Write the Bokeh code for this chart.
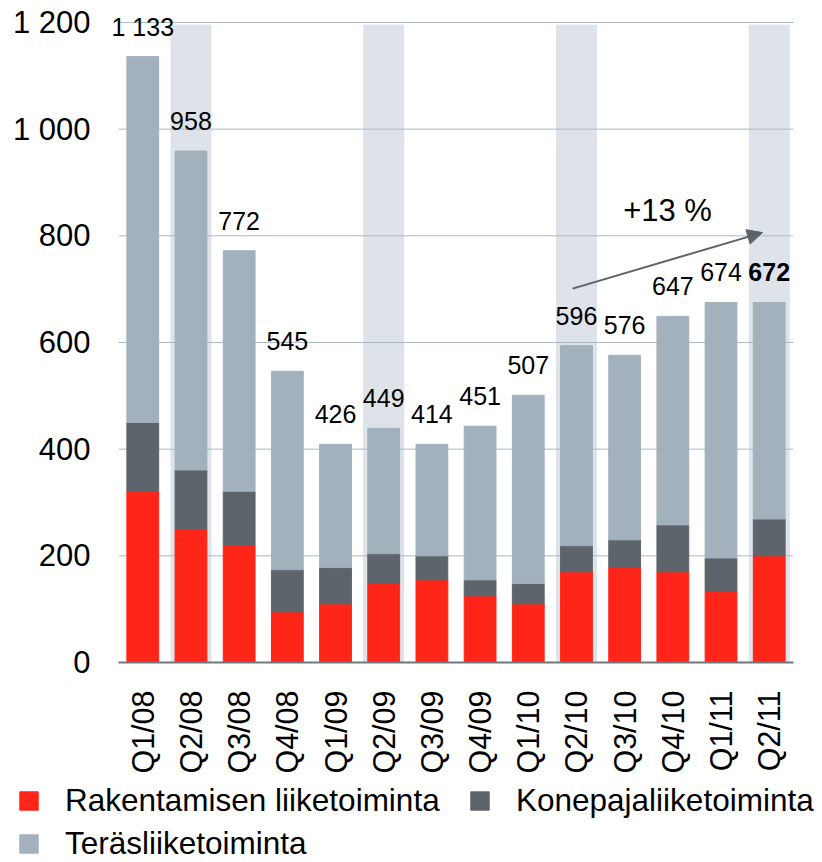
import math
from bokeh.plotting import figure
from bokeh.layouts import column
from bokeh.models import (ColumnDataSource, FactorRange, Range1d, FixedTicker,
                          Legend, LegendItem, Arrow, NormalHead, Label)
from bokeh.embed import file_html
from bokeh.resources import INLINE
from bokeh.core.properties import value, field

# ---------------- data ----------------
quarters = ["Q1/08", "Q2/08", "Q3/08", "Q4/08", "Q1/09", "Q2/09", "Q3/09",
            "Q4/09", "Q1/10", "Q2/10", "Q3/10", "Q4/10", "Q1/11", "Q2/11"]
construction = [321, 250, 220, 95, 110, 148, 155, 125, 110, 170, 178, 170, 133, 200]
engineering = [129, 111, 101, 79, 68, 56, 45, 30, 38, 49, 52, 88, 63, 69]
steel = [686, 598, 451, 372, 231, 235, 209, 288, 353, 375, 346, 391, 479, 406]
total_labels = [1133, 958, 772, 545, 426, 449, 414, 451, 507, 596, 576, 647, 674, 672]
series_names = ["Rakentamisen liiketoiminta", "Konepajaliiketoiminta", "Teräsliiketoiminta"]
y_ticks = [0, 200, 400, 600, 800, 1000, 1200]
growth_text = "+13 %"

# ---------------- styles ----------------
FONT = "Liberation Sans"
colors = ["#FF2519", "#5D646B", "#A3B1BD"]
band_color = "#DEE3EA"
grid_color = "#AAB8C5"
axis_color = "#6F777F"
arrow_color = "#5C636A"

def fmt(v):
    return f"{v:,}".replace(",", " ")

n = len(quarters)
totals = [c + e + s for c, e, s in zip(construction, engineering, steel)]
src = ColumnDataSource(dict(
    q=quarters, c=construction, e=engineering, s=steel,
    total=totals,
    label=[fmt(v) for v in total_labels],
    weight=["normal"] * (n - 1) + ["bold"],
))
highlighted = [q for q in quarters if q.startswith("Q2")]

y_end = 1200 * 653 / 642
p = figure(x_range=FactorRange(*quarters, range_padding=0.17,
                               range_padding_units="absolute"),
           y_range=Range1d(0, y_end),
           width=822, height=776, output_backend="svg", toolbar_location=None,
           min_border_left=110, min_border_right=21, min_border_top=11,
           min_border_bottom=112, outline_line_color=None)
p.frame_align = False

# highlight bands
p.vbar(x=highlighted, top=1195, width=0.83, color=band_color)

# horizontal grid lines spanning the categories only
p.segment(x0=0, x1=n, y0=y_ticks, y1=y_ticks, line_color=grid_color, line_width=1)

rs = p.vbar_stack(["c", "e", "s"], x="q", width=0.66, color=colors, source=src)

p.text(x="q", y="total", text="label", source=src, y_offset=-30,
       text_align="center", text_baseline="middle",
       text_font=value(FONT), text_font_size="25px",
       text_font_style=field("weight"), text_color="#000000")

# growth arrow
p.add_layout(Arrow(x_start=9.42, y_start=701, x_end=13.36, y_end=806,
                   line_color=arrow_color, line_width=2,
                   end=NormalHead(size=15, fill_color=arrow_color,
                                  line_color=arrow_color)))
p.add_layout(Label(x=11.39, y=847, text=growth_text, text_align="center",
                   text_baseline="middle", text_font=FONT,
                   text_font_size="31px", text_color="#000000"))

# grid / axes
p.xgrid.visible = False
p.ygrid.visible = False

p.yaxis.ticker = FixedTicker(ticks=y_ticks)
p.yaxis.major_label_overrides = {t: fmt(t) for t in y_ticks}
p.yaxis.axis_line_color = None
p.yaxis.major_tick_line_color = None
p.yaxis.minor_tick_line_color = None
p.yaxis.major_tick_in = 0
p.yaxis.major_tick_out = 0
p.yaxis.major_label_standoff = 20
p.yaxis.major_label_text_font = FONT
p.yaxis.major_label_text_font_size = "31px"
p.yaxis.major_label_text_color = "#000000"

p.xaxis.bounds = (0, n)
p.xaxis.axis_line_color = axis_color
p.xaxis.axis_line_width = 2
p.xaxis.major_tick_line_color = None
p.xaxis.major_tick_in = 0
p.xaxis.major_tick_out = 0
p.xaxis.major_label_orientation = math.pi / 2
p.xaxis.major_label_standoff = 28
p.xaxis.major_label_text_font = FONT
p.xaxis.major_label_text_font_size = "30.5px"
p.xaxis.major_label_text_color = "#000000"

# ---------------- legend (separate strip below) ----------------
p2 = figure(width=822, height=86, x_range=Range1d(0, 1), y_range=Range1d(0, 1),
            x_axis_type=None, y_axis_type=None, min_border=0,
            output_backend="svg", toolbar_location=None, outline_line_color=None)
p2.frame_align = False
p2.grid.visible = False
# off-screen proxies so that the legend can draw its swatches
dummies = [p2.vbar(x=[-10], top=[-10], width=1, color=c) for c in colors]
legend = Legend(items=[LegendItem(label=nm, renderers=[r]) for nm, r in zip(series_names, dummies)],
                location=(17, 0), orientation="horizontal", ncols=2,
                glyph_width=23, glyph_height=23, label_standoff=25, spacing=6,
                label_width=397, padding=0, margin=0,
                border_line_color=None, background_fill_alpha=0,
                label_text_font=FONT, label_text_font_size="31.5px",
                label_text_color="#000000")
p2.add_layout(legend, "center")

open("out.html", "w").write(file_html(column(p, p2, spacing=0), INLINE))
